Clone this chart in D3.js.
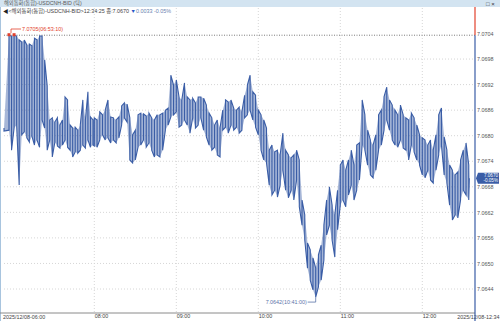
<!DOCTYPE html>
<html>
<head>
<meta charset="utf-8">
<script src="https://cdn.jsdelivr.net/npm/d3@7"></script>
<style>
  body { margin: 0; background: #fff; }
  svg { display: block; font-family: "Liberation Sans", Arial, "Noto Sans CJK KR", sans-serif; }
</style>
</head>
<body>
<svg id="chart" width="500" height="321"></svg>
<script>
// USDCNH bid tick chart, 2025/12/08 06:00 - 12:34
// each time bucket keeps the high / low tick seen in that bucket
const times = [
  "06:00",
  "06:53", "06:55", "06:57", "06:59", "07:01", "07:03", "07:05", "07:07", "07:09", "07:11",
  "07:13", "07:15", "07:17", "07:19", "07:21", "07:23", "07:25", "07:27", "07:29", "07:31",
  "07:33", "07:35", "07:37", "07:39", "07:41", "07:43", "07:45", "07:47", "07:49", "07:51",
  "07:53", "07:55", "07:57", "07:59",
  "08:00", "08:02", "08:04", "08:06", "08:08", "08:10", "08:12", "08:14", "08:16", "08:18",
  "08:20", "08:22", "08:24", "08:26", "08:28", "08:30", "08:32", "08:34", "08:36", "08:38",
  "08:40", "08:42", "08:44", "08:46", "08:48", "08:50", "08:52", "08:54", "08:56", "08:58",
  "09:00", "09:02", "09:04", "09:06", "09:08", "09:10", "09:12", "09:14", "09:16", "09:18",
  "09:20", "09:22", "09:24", "09:26", "09:28", "09:30", "09:32", "09:34", "09:36", "09:38",
  "09:40", "09:42", "09:44", "09:46", "09:48", "09:50", "09:52", "09:54", "09:56", "09:58",
  "10:00", "10:02", "10:04", "10:06", "10:08", "10:10", "10:12", "10:14", "10:16", "10:18",
  "10:20", "10:22", "10:24", "10:26", "10:28", "10:30", "10:32", "10:34", "10:36", "10:38",
  "10:40", "10:42", "10:44", "10:46", "10:48", "10:50", "10:52", "10:54", "10:56", "10:58",
  "11:00", "11:02", "11:04", "11:06", "11:08", "11:10", "11:12", "11:14", "11:16", "11:18",
  "11:20", "11:22", "11:24", "11:26", "11:28", "11:30", "11:32", "11:34", "11:36", "11:38",
  "11:40", "11:42", "11:44", "11:46", "11:48", "11:50", "11:52", "11:54", "11:56", "11:58",
  "12:00", "12:02", "12:04", "12:06", "12:08", "12:10", "12:12", "12:14", "12:16", "12:18",
  "12:20", "12:22", "12:24", "12:26", "12:28", "12:30", "12:32", "12:34",
  "12:34:25"
];

const highs = [
  7.06818,
  7.07036, 7.07034, 7.07036, 7.07034, 7.07025, 7.07020, 7.07025, 7.07013, 7.07015, 7.07011,
  7.07029, 7.07025, 7.07034, 7.07034, 7.06978, 7.06917, 7.06837, 7.06842, 7.06832, 7.06842,
  7.06825, 7.06837, 7.06891, 7.06884, 7.06825, 7.06818, 7.06820, 7.06813, 7.06825, 7.06884,
  7.06837, 7.06903, 7.06844, 7.06837,
  7.06842, 7.06837, 7.06856, 7.06849, 7.06860, 7.06884, 7.06844, 7.06842, 7.06837, 7.06844,
  7.06870, 7.06877, 7.06874, 7.06842, 7.06802, 7.06813, 7.06849, 7.06853, 7.06851, 7.06846,
  7.06853, 7.06842, 7.06837, 7.06849, 7.06849, 7.06853, 7.06860, 7.06865, 7.06942, 7.06919,
  7.06931, 7.06891, 7.06884, 7.06924, 7.06891, 7.06884, 7.06888, 7.06877, 7.06891, 7.06891,
  7.06888, 7.06872, 7.06853, 7.06842, 7.06825, 7.06837, 7.06818, 7.06860, 7.06884, 7.06879,
  7.06884, 7.06865, 7.06860, 7.06867, 7.06856, 7.06895, 7.06919, 7.06942, 7.06903, 7.06895,
  7.06860, 7.06849, 7.06837, 7.06818, 7.06766, 7.06778, 7.06762, 7.06766, 7.06755, 7.06806,
  7.06766, 7.06755, 7.06748, 7.06755, 7.06766, 7.06743, 7.06649, 7.06614, 7.06548, 7.06532,
  7.06513, 7.06489, 7.06520, 7.06543, 7.06590, 7.06649, 7.06680, 7.06637, 7.06614, 7.06672,
  7.06731, 7.06743, 7.06719, 7.06743, 7.06766, 7.06731, 7.06778, 7.06783, 7.06884, 7.06849,
  7.06813, 7.06790, 7.06778, 7.06802, 7.06849, 7.06860, 7.06891, 7.06914, 7.06884, 7.06872,
  7.06860, 7.06849, 7.06872, 7.06849, 7.06842, 7.06837, 7.06853, 7.06842, 7.06825, 7.06802,
  7.06795, 7.06790, 7.06778, 7.06790, 7.06766, 7.06802, 7.06849, 7.06865, 7.06797, 7.06766,
  7.06731, 7.06719, 7.06708, 7.06715, 7.06743, 7.06766, 7.06783, 7.06731,
  7.0670
];

const lows = [
  7.06811,
  7.06813, 7.06766, 7.06818, 7.06825, 7.06684, 7.06802, 7.06809, 7.06795, 7.06785, 7.06799,
  7.06778, 7.06790, 7.06773, 7.06837, 7.06818, 7.06766, 7.06790, 7.06750, 7.06785, 7.06776,
  7.06771, 7.06778, 7.06790, 7.06773, 7.06766, 7.06750, 7.06762, 7.06759, 7.06766, 7.06778,
  7.06771, 7.06790, 7.06773, 7.06778,
  7.06776, 7.06773, 7.06790, 7.06802, 7.06790, 7.06795, 7.06783, 7.06790, 7.06783, 7.06795,
  7.06825, 7.06842, 7.06832, 7.06743, 7.06736, 7.06743, 7.06773, 7.06778, 7.06790, 7.06773,
  7.06783, 7.06766, 7.06750, 7.06755, 7.06750, 7.06766, 7.06813, 7.06825, 7.06844, 7.06849,
  7.06856, 7.06820, 7.06825, 7.06837, 7.06825, 7.06806, 7.06842, 7.06818, 7.06825, 7.06842,
  7.06813, 7.06797, 7.06778, 7.06766, 7.06773, 7.06755, 7.06750, 7.06813, 7.06820, 7.06806,
  7.06825, 7.06813, 7.06820, 7.06806, 7.06813, 7.06842, 7.06849, 7.06860, 7.06837, 7.06820,
  7.06802, 7.06766, 7.06743, 7.06736, 7.06684, 7.06661, 7.06672, 7.06656, 7.06684, 7.06719,
  7.06672, 7.06654, 7.06672, 7.06649, 7.06696, 7.06633, 7.06590, 7.06555, 7.06489, 7.06461,
  7.06438, 7.06421, 7.06445, 7.06461, 7.06508, 7.06567, 7.06590, 7.06555, 7.06515, 7.06579,
  7.06637, 7.06649, 7.06633, 7.06661, 7.06684, 7.06649, 7.06672, 7.06696, 7.06778, 7.06766,
  7.06731, 7.06708, 7.06701, 7.06719, 7.06766, 7.06778, 7.06813, 7.06837, 7.06813, 7.06790,
  7.06778, 7.06773, 7.06790, 7.06771, 7.06766, 7.06743, 7.06778, 7.06762, 7.06743, 7.06731,
  7.06708, 7.06701, 7.06719, 7.06696, 7.06689, 7.06719, 7.06755, 7.06778, 7.06708, 7.06689,
  7.06637, 7.06602, 7.06614, 7.06607, 7.06649, 7.06672, 7.06661, 7.06649,
  7.0670
];

const yTicks = [7.0704, 7.0698, 7.0692, 7.0686, 7.0680, 7.0674, 7.0668, 7.0662, 7.0656, 7.0650, 7.0644];
const hourTicks = ["08:00", "09:00", "10:00", "11:00", "12:00"];
const startLabel = "2025/12/08-06:00";
const endLabel = "2025/12/08-12:34";
const windowTitle = "해외통화(통합)-USDCNH-BID (틱)";
const infoText = "<해외통화(통합)-USDCNH-BID>12:34:25 종:7.0670 ";
const changeText = "0.0033  -0.05%";
const maxNote = { value: "7.0705", time: "06:53:10" };
const minNote = { value: "7.0642", time: "10:41:00" };
const closeNote = { value: 7.0670, change: "-0.05%" };

const blue = "#3a5da6";
const red = "#e2412d";

const parseTime = d3.timeParse("%Y-%m-%d %H:%M:%S");
const toDate = s => parseTime("2025-12-08 " + (s.length === 5 ? s + ":00" : s));

const svg = d3.select("#chart");
const plot = { left: 4, right: 475, top: 8, bottom: 313 };

// tick chart: the x axis runs on tick count, so the quiet early hours are squeezed
const x = d3.scaleTime()
    .domain(["06:00", "06:53", "08:00", "12:00"].map(toDate))
    .range([4, 9, 94.3, 422.3]);

const y = d3.scaleLinear()
    .domain([7.0644, 7.0704])
    .range([289, 33.5]);

// header bar
svg.append("rect").attr("x", 0).attr("y", 0).attr("width", 500).attr("height", 7).attr("fill", "#d3e4f1");
svg.append("text").attr("x", 4).attr("y", 5.3).attr("font-size", 5.3).attr("fill", "#5a5a5a").text(windowTitle);
svg.append("text").attr("x", 486).attr("y", 5.5).attr("font-size", 6).attr("fill", "#333").text("□ ×");
svg.append("line").attr("x1", 0.5).attr("x2", 0.5).attr("y1", 7).attr("y2", 321).attr("stroke", "#a8c4de");

// info line
const info = svg.append("text").attr("x", 3).attr("y", 12.6).attr("font-size", 5.4).attr("fill", "#444");
info.append("tspan").attr("fill", "#222").text("◀");
info.append("tspan").text(infoText);
info.append("tspan").attr("fill", "#2a56c6").text("▼");
info.append("tspan").attr("fill", "#6a7fb0").text(changeText);

// grid
svg.append("g").selectAll("line")
    .data(yTicks.slice(1))
    .join("line")
    .attr("x1", plot.left).attr("x2", plot.right)
    .attr("y1", d => y(d)).attr("y2", d => y(d))
    .attr("stroke", "#d6d6d6").attr("stroke-dasharray", "1,2");

svg.append("g").selectAll("line")
    .data(hourTicks.map(toDate))
    .join("line")
    .attr("x1", d => x(d)).attr("x2", d => x(d))
    .attr("y1", plot.top).attr("y2", plot.bottom)
    .attr("stroke", "#d6d6d6").attr("stroke-dasharray", "1,2");

// high/low zigzag for every bucket
const buckets = times.map((t, i) => ({ t: toDate(t), hi: highs[i], lo: lows[i] }));
const pts = [];
buckets.forEach((b, i) => {
    if (i % 2 === 0) { pts.push([b.t, b.hi]); pts.push([b.t, b.lo]); }
    else { pts.push([b.t, b.lo]); pts.push([b.t, b.hi]); }
});

const line = d3.line().x(d => x(d[0])).y(d => y(d[1]));
const band = d3.area().x(d => x(d.t)).y0(d => y(d.lo)).y1(d => y(d.hi));

// max dotted line
const maxVal = d3.max(highs);
svg.append("line")
    .attr("x1", plot.left).attr("x2", plot.right)
    .attr("y1", y(maxVal)).attr("y2", y(maxVal))
    .attr("stroke", "#7a7a7a").attr("stroke-dasharray", "1,1.5");

svg.append("path")
    .datum(buckets)
    .attr("fill", blue)
    .attr("fill-opacity", 0.45)
    .attr("d", band);

svg.append("path")
    .datum(pts)
    .attr("fill", "none")
    .attr("stroke", blue)
    .attr("stroke-width", 1.1)
    .attr("d", line);

// max note
const maxIdx = highs.indexOf(maxVal);
const mx = x(toDate(times[maxIdx]));
svg.append("g").selectAll("rect")
    .data(times.filter((t, i) => highs[i] === maxVal))
    .join("rect")
    .attr("x", d => x(toDate(d)) - 1.5).attr("y", y(maxVal) - 2)
    .attr("width", 3).attr("height", 3).attr("fill", red);
svg.append("path")
    .attr("d", `M${mx + 2},${y(maxVal) - 2}V29H${mx + 12}`)
    .attr("fill", "none").attr("stroke", red).attr("stroke-width", 0.8);
svg.append("text").attr("x", mx + 13).attr("y", 30.8).attr("font-size", 5.4).attr("fill", red)
    .text(`${maxNote.value}(${maxNote.time})`);

// min note
const minVal = d3.min(lows);
const minIdx = lows.indexOf(minVal);
const nx = x(toDate(times[minIdx]));
svg.append("path")
    .attr("d", `M${nx - 8},${y(minVal) + 5}H${nx}V${y(minVal)}`)
    .attr("fill", "none").attr("stroke", "#5a73a8").attr("stroke-width", 0.8);
svg.append("text").attr("x", nx - 9).attr("y", y(minVal) + 6.8).attr("text-anchor", "end")
    .attr("font-size", 5.4).attr("fill", "#5a73a8")
    .text(`${minNote.value}(${minNote.time})`);

// x axis
svg.append("line").attr("x1", 0).attr("x2", plot.right).attr("y1", plot.bottom).attr("y2", plot.bottom)
    .attr("stroke", "#8a8a8a");
const xAxis = svg.append("g")
    .attr("transform", `translate(0,${plot.bottom})`)
    .call(d3.axisBottom(x).tickValues(hourTicks.map(toDate)).tickSize(0).tickPadding(1.5)
        .tickFormat(d3.timeFormat("%H:%M")));
xAxis.select(".domain").remove();
xAxis.selectAll("text").attr("text-anchor", "start").attr("font-size", 5.4).attr("fill", "#444")
    .attr("font-family", null);
svg.append("text").attr("x", 3).attr("y", 318.8).attr("font-size", 5.4).attr("fill", "#444").text(startLabel);
svg.append("text").attr("x", 499.5).attr("y", 318.8).attr("text-anchor", "end").attr("font-size", 5.4)
    .attr("fill", "#444").text(endLabel);

// right axis
const yAxis = svg.append("g")
    .attr("transform", `translate(${plot.right},0)`)
    .call(d3.axisRight(y).tickValues(yTicks).tickSize(0).tickPadding(2).tickFormat(d3.format(".4f")));
yAxis.select(".domain").remove();
yAxis.selectAll("text").attr("font-size", 5.4).attr("fill", "#555").attr("font-family", null);

svg.append("line").attr("x1", plot.right).attr("x2", plot.right).attr("y1", 7).attr("y2", y(maxVal))
    .attr("stroke", red).attr("stroke-width", 1.2);
svg.append("line").attr("x1", plot.right).attr("x2", plot.right).attr("y1", y(maxVal)).attr("y2", 321)
    .attr("stroke", blue).attr("stroke-width", 1.2);

// current price box
const cy = y(closeNote.value);
svg.append("path")
    .attr("d", `M${plot.right + 1},${cy}L${plot.right + 3},${cy - 5.5}H499V${cy + 5.5}H${plot.right + 3}Z`)
    .attr("fill", blue);
svg.append("text").attr("x", 498).attr("y", cy - 0.8).attr("text-anchor", "end").attr("font-size", 4.6)
    .attr("fill", "#fff").text(d3.format(".4f")(closeNote.value));
svg.append("text").attr("x", 498).attr("y", cy + 4).attr("text-anchor", "end").attr("font-size", 4.6)
    .attr("fill", "#fff").text(closeNote.change);
</script>
</body>
</html>
